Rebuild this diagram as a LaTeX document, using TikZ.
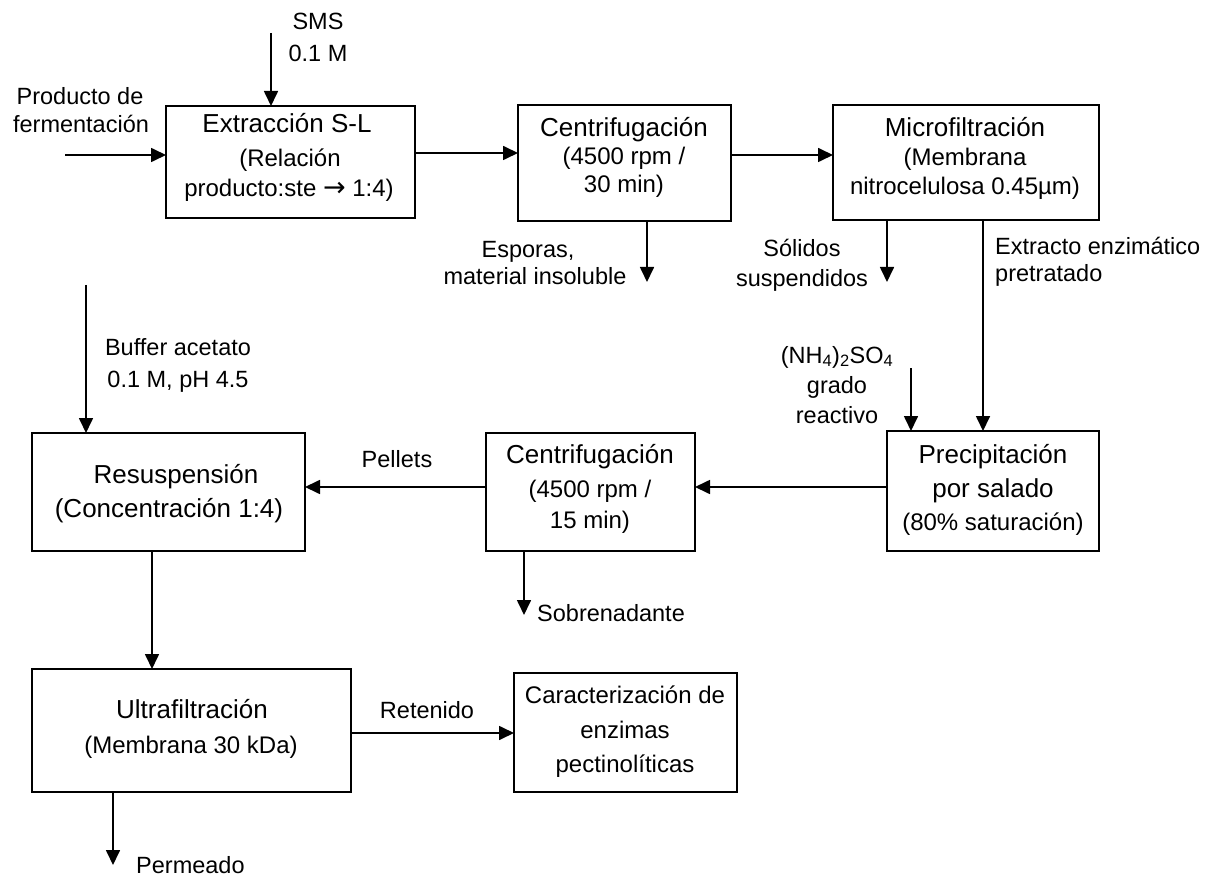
\documentclass[tikz,border=0pt]{standalone}
\usepackage{fontspec}
\setmainfont{Liberation Sans}
\newfontfamily\arrowfont{DejaVu Sans}
\usetikzlibrary{arrows.meta}
\begin{document}
\begin{tikzpicture}[x=1pt,y=-1pt,
  box/.style={draw, line width=1.8pt, inner sep=0pt, outer sep=0pt},
  arr/.style={line width=1.7pt, -{Triangle[length=15pt,width=14pt]}},
  ttl/.style={anchor=base, inner sep=0pt, font=\fontsize{26}{30}\selectfont},
  sub/.style={anchor=base, inner sep=0pt, font=\fontsize{24}{28}\selectfont},
  lbl/.style={anchor=base, inner sep=0pt, font=\fontsize{23.5}{28}\selectfont},
  lbll/.style={lbl, anchor=base west},
]
\useasboundingbox (0,0) rectangle (1210,877);

% boxes
\node[box, minimum width=249pt, minimum height=112pt] (b1) at (290.5,162) {};
\node[box, minimum width=213pt, minimum height=116pt] (b2) at (624.5,163) {};
\node[box, minimum width=266pt, minimum height=115pt] (b3) at (966,162.5) {};
\node[box, minimum width=212pt, minimum height=120pt] (b4) at (993,491) {};
\node[box, minimum width=209pt, minimum height=118pt] (b5) at (590.5,492) {};
\node[box, minimum width=273pt, minimum height=118pt] (b6) at (168.5,492) {};
\node[box, minimum width=319pt, minimum height=123pt] (b7) at (191.5,730.5) {};
\node[box, minimum width=223pt, minimum height=119pt] (b8) at (625.5,732.5) {};

% box texts
\node[ttl] (t1a) at (287,133) {Extracción S-L};
\node[sub] (t1b) at (290,167) {(Relación};
\node[sub] (t1c) at (289,197) {producto:ste {\arrowfont\fontsize{27}{30}\selectfont →} 1:4)};

\node[ttl] (t2a) at (624,137) {Centrifugación};
\node[sub] (t2b) at (624,165) {(4500 rpm /};
\node[sub] (t2c) at (624,193) {30 min)};

\node[ttl] (t3a) at (965,137) {Microfiltración};
\node[sub] (t3b) at (965,166) {(Membrana};
\node[sub] (t3c) at (965,195) {nitrocelulosa 0.45µm)};

\node[ttl] (t4a) at (993,463) {Precipitación};
\node[ttl] (t4b) at (993,497) {por salado};
\node[sub] (t4c) at (993,530) {(80\% saturación)};

\node[ttl] (t5a) at (590,463) {Centrifugación};
\node[sub] (t5b) at (590,497) {(4500 rpm /};
\node[sub] (t5c) at (590,528) {15 min)};

\node[ttl] (t6a) at (176,483) {Resuspensión};
\node[ttl] (t6b) at (169,517) {(Concentración 1:4)};

\node[ttl] (t7a) at (192,718) {Ultrafiltración};
\node[sub] (t7b) at (191,753) {(Membrana 30 kDa)};

\node[sub] (t8a) at (625,703) {Caracterización de};
\node[sub] (t8b) at (625,738) {enzimas};
\node[sub] (t8c) at (625,772) {pectinolíticas};

% free ends
\coordinate (in) at (65,155);
\coordinate (sms) at (271,33);
\coordinate (esp) at (647,282);
\coordinate (sol) at (887,282);
\coordinate (ext) at ([xshift=-10pt]b4.north);
\coordinate (nh) at (911,368);
\coordinate (sob) at (524,615);
\coordinate (buf) at (86,285);
\coordinate (perm) at (113,865);

% connectors
\draw[arr] (in) -- (in -| b1.west);
\draw[arr] (sms) -- (sms |- b1.north);
\draw[arr] ([yshift=9pt]b1.east) -- ([yshift=9pt]b1.east -| b2.west);
\draw[arr] ([yshift=8pt]b2.east) -- ([yshift=8pt]b2.east -| b3.west);
\draw[arr] (esp |- b2.south) -- (esp);
\draw[arr] (sol |- b3.south) -- (sol);
\draw[arr] (ext |- b3.south) -- (ext);
\draw[arr] (nh) -- (nh |- b4.north);
\draw[arr] ([yshift=4pt]b4.west) -- ([yshift=4pt]b4.west -| b5.east);
\draw[arr] ([yshift=5pt]b5.west) -- ([yshift=5pt]b5.west -| b6.east);
\draw[arr] (sob |- b5.south) -- (sob);
\draw[arr] (buf) -- (buf |- b6.north);
\draw[arr] ([xshift=-16.5pt]b6.south) -- ([xshift=-16.5pt]b6.south |- b7.north);
\draw[arr] ([yshift=-2.5pt]b7.east) -- ([yshift=-2.5pt]b7.east -| b8.west);
\draw[arr] (perm |- b7.south) -- (perm);

% labels
\node[lbl] (l1a) at (80,105) {Producto de};
\node[lbl] (l1b) at (81,133) {fermentación};
\node[lbl] (l2a) at (318,30) {SMS};
\node[lbl] (l2b) at (318,62) {0.1 M};
\node[lbl] (l3a) at (528,258) {Esporas,};
\node[lbl] (l3b) at (535,285) {material insoluble};
\node[lbl] (l4a) at (802,257) {Sólidos};
\node[lbl] (l4b) at (802,287) {suspendidos};
\node[lbll] (l5a) at (995,255) {Extracto enzimático};
\node[lbll] (l5b) at (995,282) {pretratado};
\node[lbl] (l6a) at (837,363) {(NH\textsubscript{4})\textsubscript{2}SO\textsubscript{4}};
\node[lbl] (l6b) at (837,393) {grado};
\node[lbl] (l6c) at (837,423) {reactivo};
\node[lbl] (l7) at (397,467) {Pellets};
\node[lbl] (l8a) at (178,355) {Buffer acetato};
\node[lbl] (l8b) at (178,387) {0.1 M, pH 4.5};
\node[lbll] (l9) at (537,621) {Sobrenadante};
\node[lbl] (l10) at (427,718) {Retenido};
\node[lbll] (l11) at (136,873) {Permeado};
\end{tikzpicture}
\end{document}
